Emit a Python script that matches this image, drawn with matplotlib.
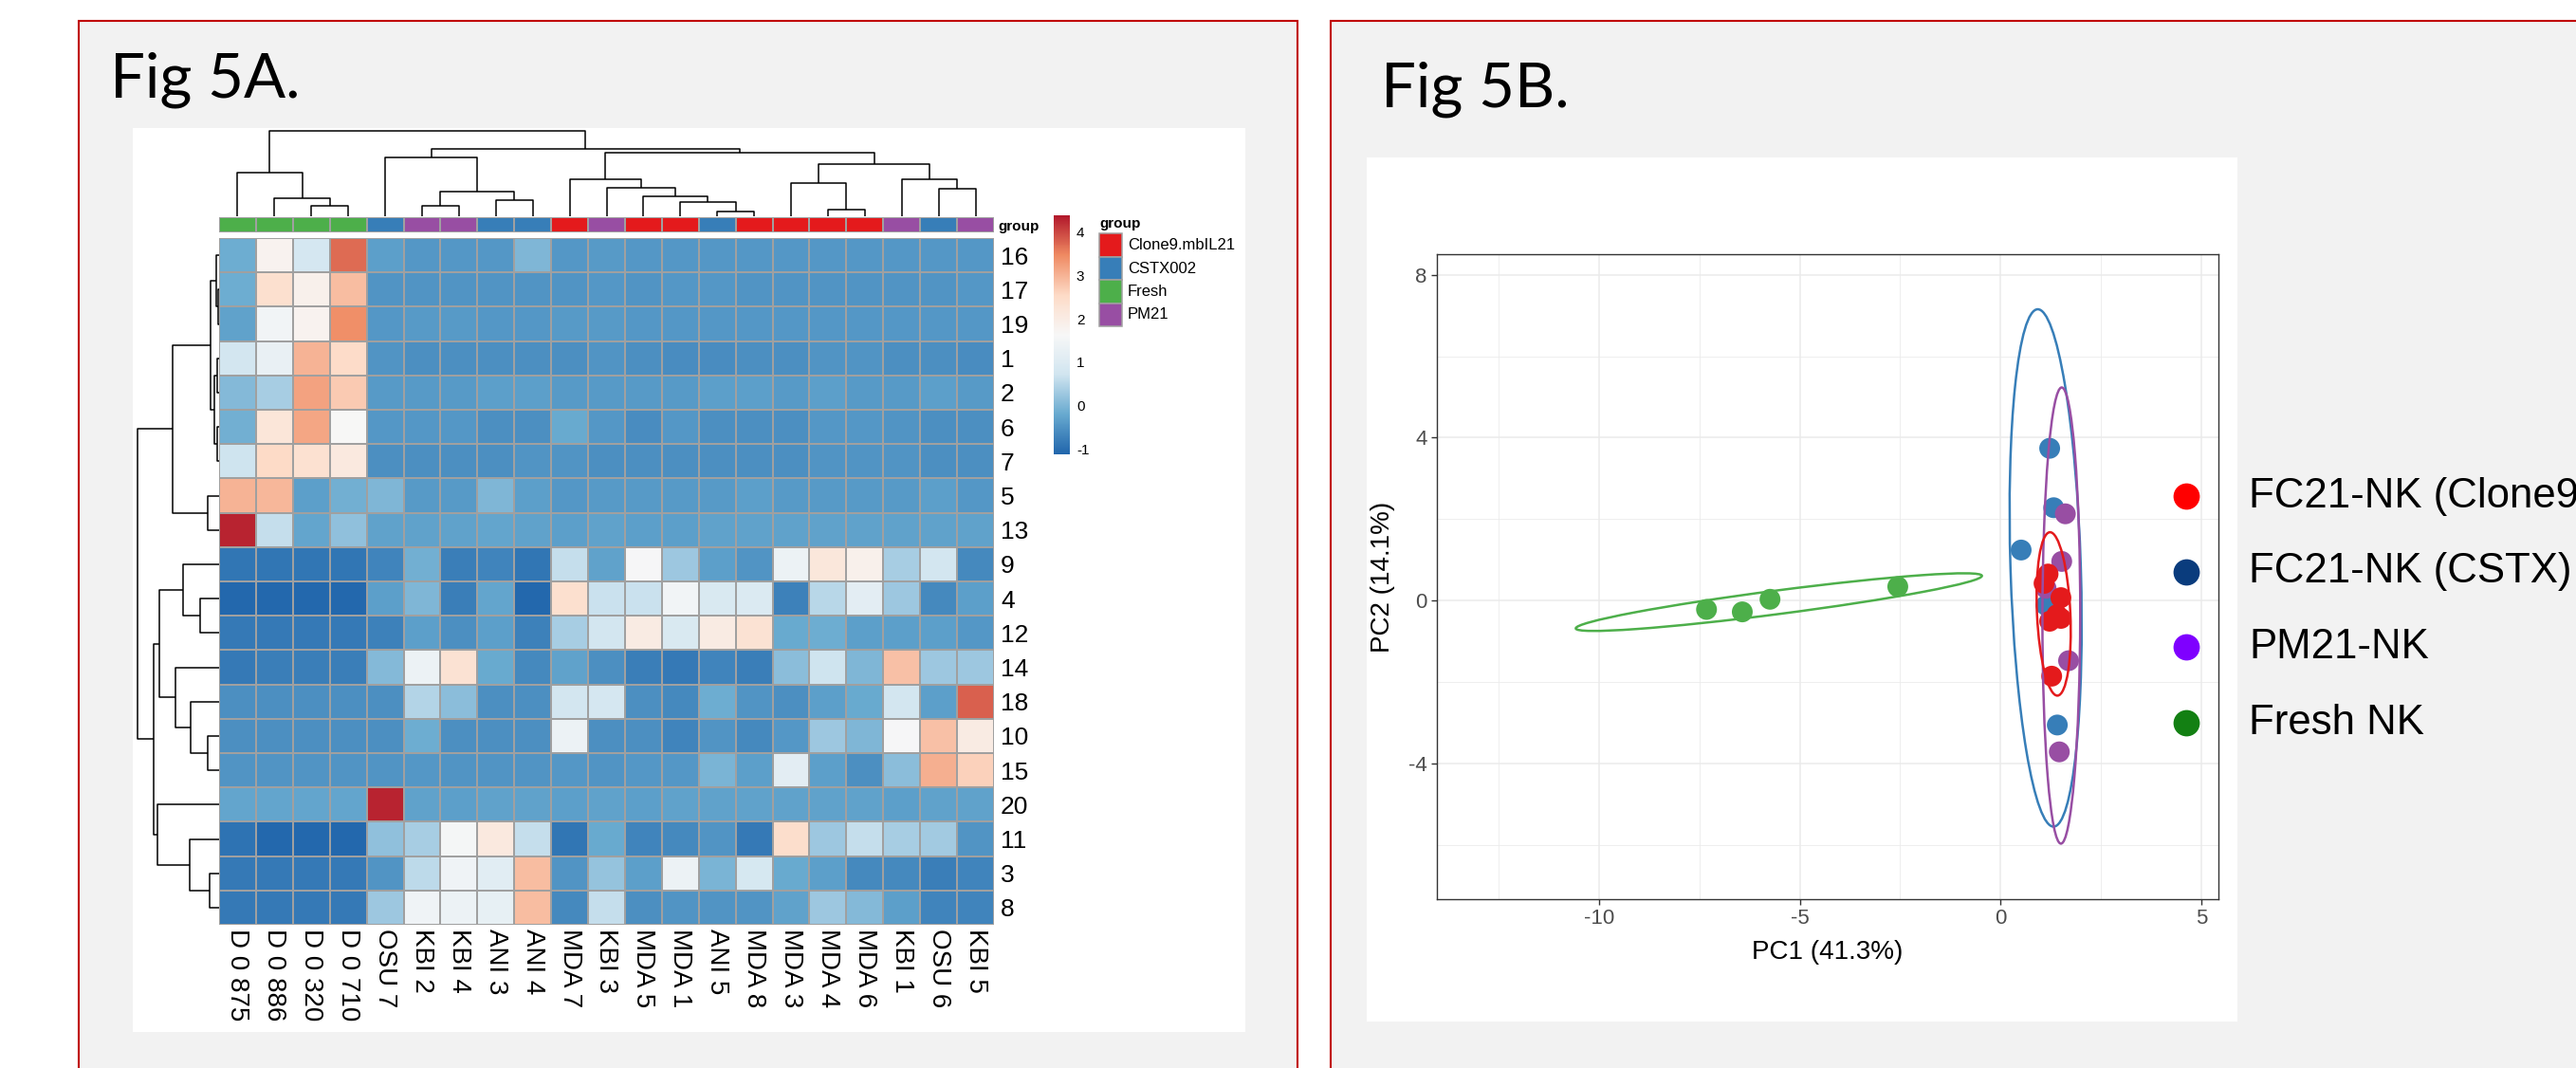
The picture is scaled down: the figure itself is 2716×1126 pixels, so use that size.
import numpy as np
import matplotlib
matplotlib.use("Agg")
import matplotlib.pyplot as plt
from matplotlib.colors import LinearSegmentedColormap, ListedColormap
from matplotlib.patches import Rectangle, Ellipse
from matplotlib.lines import Line2D

plt.rcParams["font.family"] = ["Liberation Sans", "DejaVu Sans"]
plt.rcParams["axes.unicode_minus"] = False

# ---------------- heatmap data (Fig 5A) ----------------
row_labels = ["16", "17", "19", "1", "2", "6", "7", "5", "13", "9",
              "4", "12", "14", "18", "10", "15", "20", "11", "3", "8"]
col_labels = ["D 0 875", "D 0 886", "D 0 320", "D 0 710", "OSU 7", "KBI 2", "KBI 4",
              "ANI 3", "ANI 4", "MDA 7", "KBI 3", "MDA 5", "MDA 1", "ANI 5", "MDA 8",
              "MDA 3", "MDA 4", "MDA 6", "KBI 1", "OSU 6", "KBI 5"]
col_group = ["Fresh", "Fresh", "Fresh", "Fresh", "CSTX002", "PM21", "PM21",
             "CSTX002", "CSTX002", "Clone9.mbIL21", "PM21", "Clone9.mbIL21",
             "Clone9.mbIL21", "CSTX002", "Clone9.mbIL21", "Clone9.mbIL21",
             "Clone9.mbIL21", "Clone9.mbIL21", "PM21", "CSTX002", "PM21"]
group_names = ["Clone9.mbIL21", "CSTX002", "Fresh", "PM21"]
group_colors = ["#E41A1C", "#377EB8", "#4DAF4A", "#984EA3"]

values = np.array([
    [-0.15, 1.8, 0.8, 3.7, -0.35, -0.45, -0.45, -0.45, 0.0, -0.45, -0.4, -0.45, -0.45, -0.45, -0.45, -0.45, -0.45, -0.45, -0.45, -0.45, -0.45],
    [-0.15, 2.4, 1.85, 2.9, -0.5, -0.5, -0.5, -0.5, -0.5, -0.5, -0.45, -0.5, -0.45, -0.45, -0.5, -0.5, -0.5, -0.5, -0.5, -0.5, -0.45],
    [-0.3, 1.5, 1.8, 3.4, -0.45, -0.4, -0.4, -0.45, -0.45, -0.4, -0.4, -0.45, -0.45, -0.45, -0.45, -0.45, -0.45, -0.45, -0.45, -0.45, -0.45],
    [0.75, 1.3, 3.0, 2.5, -0.5, -0.55, -0.55, -0.55, -0.55, -0.55, -0.5, -0.55, -0.6, -0.6, -0.55, -0.55, -0.5, -0.5, -0.55, -0.55, -0.6],
    [0.05, 0.35, 3.2, 2.75, -0.4, -0.4, -0.4, -0.35, -0.35, -0.4, -0.4, -0.4, -0.4, -0.35, -0.35, -0.4, -0.35, -0.4, -0.4, -0.35, -0.4],
    [-0.1, 2.2, 3.15, 1.65, -0.45, -0.45, -0.45, -0.55, -0.55, -0.2, -0.45, -0.6, -0.45, -0.55, -0.55, -0.55, -0.45, -0.45, -0.5, -0.55, -0.55],
    [0.7, 2.55, 2.35, 2.1, -0.55, -0.55, -0.55, -0.55, -0.5, -0.5, -0.55, -0.55, -0.55, -0.55, -0.55, -0.55, -0.5, -0.5, -0.5, -0.55, -0.55],
    [3.0, 2.95, -0.35, -0.1, 0.0, -0.4, -0.4, 0.0, -0.35, -0.45, -0.4, -0.4, -0.4, -0.4, -0.35, -0.4, -0.4, -0.4, -0.4, -0.35, -0.45],
    [4.3, 0.6, -0.25, 0.15, -0.3, -0.3, -0.3, -0.25, -0.3, -0.35, -0.3, -0.35, -0.35, -0.3, -0.3, -0.3, -0.3, -0.3, -0.3, -0.3, -0.3],
    [-0.9, -0.9, -0.9, -0.9, -0.7, -0.1, -0.8, -0.7, -0.9, 0.6, -0.3, 1.6, 0.25, -0.35, -0.5, 1.35, 2.15, 1.85, 0.35, 0.75, -0.65],
    [-1.1, -1.1, -1.1, -1.1, -0.35, 0.0, -0.8, -0.25, -1.1, 2.4, 0.65, 0.65, 1.5, 0.9, 0.95, -0.75, 0.5, 1.15, 0.25, -0.65, -0.35],
    [-0.85, -0.85, -0.85, -0.85, -0.75, -0.35, -0.55, -0.35, -0.75, 0.35, 0.75, 2.0, 0.9, 2.0, 2.3, -0.2, -0.15, -0.35, -0.35, -0.35, -0.45],
    [-0.85, -0.8, -0.8, -0.8, 0.05, 1.35, 2.3, -0.2, -0.65, -0.3, -0.55, -0.8, -0.85, -0.7, -0.8, 0.1, 0.7, 0.0, 2.85, 0.25, 0.25],
    [-0.55, -0.55, -0.55, -0.55, -0.55, 0.45, 0.1, -0.55, -0.55, 0.75, 0.8, -0.55, -0.65, -0.15, -0.5, -0.55, -0.35, -0.2, 0.75, -0.35, 3.8],
    [-0.55, -0.55, -0.55, -0.55, -0.55, -0.15, -0.55, -0.55, -0.55, 1.35, -0.55, -0.55, -0.7, -0.5, -0.65, -0.45, 0.25, 0.0, 1.6, 2.85, 2.0],
    [-0.5, -0.5, -0.5, -0.5, -0.5, -0.45, -0.5, -0.5, -0.5, -0.45, -0.5, -0.45, -0.45, -0.05, -0.35, 1.15, -0.35, -0.55, 0.1, 3.05, 2.65],
    [-0.25, -0.25, -0.25, -0.25, 4.3, -0.3, -0.35, -0.3, -0.3, -0.35, -0.3, -0.35, -0.3, -0.3, -0.3, -0.3, -0.3, -0.3, -0.35, -0.3, -0.3],
    [-0.95, -1.1, -1.1, -1.1, 0.15, 0.35, 1.55, 2.1, 0.6, -0.9, -0.2, -0.7, -0.65, -0.5, -0.85, 2.45, 0.25, 0.6, 0.35, 0.3, -0.5],
    [-0.85, -0.85, -0.85, -0.85, -0.5, 0.55, 1.45, 1.1, 2.9, -0.5, 0.2, -0.35, 1.35, -0.05, 0.85, -0.2, -0.35, -0.65, -0.65, -0.8, -0.7],
    [-0.85, -0.85, -0.85, -0.85, 0.25, 1.45, 1.35, 1.25, 2.9, -0.65, 0.6, -0.55, -0.5, -0.5, -0.5, -0.3, 0.25, 0.05, -0.35, -0.7, -0.7],
])

# dendrogram merges: (left, right, height); ids >= n are earlier merges
col_merges = [
    (2, 3, 10.7), (1, 21, 18.7), (0, 22, 46.3),
    (5, 6, 10.7), (7, 8, 17.3), (24, 25, 25.7), (4, 26, 61.3),
    (13, 14, 5.3), (12, 28, 14.7), (11, 29, 20.7), (10, 30, 29.7), (9, 31, 38.7),
    (16, 17, 7.0), (15, 33, 34.7), (19, 20, 28.7), (18, 35, 38.7), (34, 36, 54.7),
    (32, 37, 66.3), (27, 38, 70.7), (23, 39, 89.7),
]
row_merges = [
    (1, 2, 0.7), (0, 20, 2.7), (3, 4, 1.7), (5, 6, 1.7), (22, 23, 5.3),
    (21, 24, 8.7), (7, 8, 11.7), (25, 26, 49.3),
    (10, 11, 19.7), (9, 28, 38.3), (14, 15, 12.0), (13, 30, 29.7), (12, 31, 46.0),
    (29, 32, 62.7), (18, 19, 10.3), (17, 34, 30.7), (16, 35, 65.3),
    (33, 36, 68.7), (27, 37, 86.0),
]

# ---------------- PCA data (Fig 5B) ----------------
clone9_pc1 = [1.18, 1.08, 1.50, 1.22, 1.50, 1.40, 1.27]
clone9_pc2 = [0.65, 0.42, 0.07, -0.51, -0.44, -0.35, -1.86]
cstx_pc1 = [1.22, 1.32, 0.51, 1.13, 1.41]
cstx_pc2 = [3.74, 2.28, 1.24, -0.12, -3.06]
pm21_pc1 = [1.61, 1.52, 1.69, 1.46, 1.13]
pm21_pc2 = [2.13, 0.96, -1.48, -3.72, 0.30]
fresh_pc1 = [-7.32, -6.43, -5.74, -2.56]
fresh_pc2 = [-0.22, -0.28, 0.03, 0.34]

# ellipses per group (clone9, cstx, fresh, pm21)
ell_cx = [1.32, 1.12, -5.52, 1.51]
ell_cy = [-0.33, 0.80, -0.04, -0.37]
ell_major = [4.02, 12.72, 10.19, 11.21]
ell_minor = [0.83, 1.75, 0.58, 0.94]
ell_angle = [92.7, 91.8, 7.3, 89.9]

legend_labels = ["FC21-NK (Clone9)", "FC21-NK (CSTX)", "PM21-NK", "Fresh NK"]
legend_colors = ["#FF0000", "#0A3C7D", "#7F00FF", "#138013"]

# ---------------- figure ----------------
W, H = 2716, 1126
fig = plt.figure(figsize=(W / 100, H / 100), dpi=100)
fig.patch.set_facecolor("white")


def box(x0, y0, x1, y1):
    return [x0 / W, 1 - y1 / H, (x1 - x0) / W, (y1 - y0) / H]


def panel(x0, y0, x1, y1, face, edge=None, lw=0):
    fig.add_artist(Rectangle((x0 / W, 1 - y1 / H), (x1 - x0) / W, (y1 - y0) / H,
                             transform=fig.transFigure, facecolor=face,
                             edgecolor=edge if edge else "none", linewidth=lw, zorder=0))


# outer panels with red frame
panel(83, 22, 1368, 1200, "#F2F2F2", "#C00000", 1.5)
panel(1403, 22, 2800, 1200, "#F2F2F2", "#C00000", 1.5)
panel(140, 135, 1313, 1088, "white")
panel(1441, 166, 2359, 1077, "white")

fig.text(116 / W, 1 - 102 / H, "Fig 5A.", fontsize=47, family=["Lato", "DejaVu Sans"],
         ha="left", va="baseline")
fig.text(1456 / W, 1 - 113 / H, "Fig 5B.", fontsize=47, family=["Lato", "DejaVu Sans"],
         ha="left", va="baseline")

# ---------------- heatmap ----------------
cmap = LinearSegmentedColormap.from_list(
    "rdbu7", ["#2166AC", "#67A9CF", "#D1E5F0", "#F7F7F7", "#FDDBC7", "#EF8A62", "#B2182B"])
vmin, vmax = -1.13, 4.39
n_rows, n_cols = values.shape

ax_h = fig.add_axes(box(231, 251, 1048, 975))
mesh = ax_h.pcolormesh(np.arange(n_cols + 1), np.arange(n_rows + 1), values, cmap=cmap,
                       vmin=vmin, vmax=vmax, edgecolors="#A0A0A0", linewidth=1.1)
ax_h.set_xlim(0, n_cols)
ax_h.set_ylim(n_rows, 0)
for s in ax_h.spines.values():
    s.set_visible(False)
ax_h.set_xticks(np.arange(n_cols) + 0.5)
ax_h.set_xticklabels(col_labels, rotation=270, fontsize=20)
ax_h.yaxis.tick_right()
ax_h.set_yticks(np.arange(n_rows) + 0.5)
ax_h.set_yticklabels(row_labels, fontsize=19)
ax_h.tick_params(axis="x", length=0, pad=3)
ax_h.tick_params(axis="y", length=0, pad=5)

# annotation bar
ax_a = fig.add_axes(box(231, 229, 1048, 245))
codes = np.array([[group_names.index(g) for g in col_group]])
ax_a.pcolormesh(np.arange(n_cols + 1), [0, 1], codes, cmap=ListedColormap(group_colors),
                vmin=-0.5, vmax=3.5, edgecolors="#A0A0A0", linewidth=1.1)
ax_a.set_xlim(0, n_cols)
ax_a.set_ylim(0, 1)
for s in ax_a.spines.values():
    s.set_visible(False)
ax_a.set_xticks([])
ax_a.yaxis.tick_right()
ax_a.set_yticks([0.5])
ax_a.set_yticklabels(["group"], fontsize=11, fontweight="bold")
ax_a.tick_params(axis="y", length=0, pad=3)


def draw_dendro(ax, merges, n, vertical):
    pos = {i: i + 0.5 for i in range(n)}
    hgt = {i: 0.0 for i in range(n)}
    for k, (a, b, h) in enumerate(merges):
        xs = [pos[a], pos[a], pos[b], pos[b]]
        ys = [hgt[a], h, h, hgt[b]]
        if vertical:
            ax.plot(xs, ys, color="black", lw=1.1, clip_on=False, solid_capstyle="butt")
        else:
            ax.plot(ys, xs, color="black", lw=1.1, clip_on=False, solid_capstyle="butt")
        pos[n + k] = (pos[a] + pos[b]) / 2
        hgt[n + k] = h
    ax.axis("off")


ax_cd = fig.add_axes(box(231, 138, 1048, 228))
draw_dendro(ax_cd, col_merges, n_cols, True)
ax_cd.set_xlim(0, n_cols)
ax_cd.set_ylim(0, max(m[2] for m in col_merges))

ax_rd = fig.add_axes(box(145, 251, 231, 975))
draw_dendro(ax_rd, row_merges, n_rows, False)
ax_rd.set_ylim(n_rows, 0)
ax_rd.set_xlim(max(m[2] for m in row_merges), 0)

# colour key
cax = fig.add_axes(box(1111, 227, 1128, 479))
cb = fig.colorbar(mesh, cax=cax, ticks=[-1, 0, 1, 2, 3, 4])
cb.outline.set_visible(False)
cax.tick_params(length=0, labelsize=11, pad=5)

# group legend
fig.text(1159 / W, 1 - 236 / H, "group", fontsize=11, fontweight="bold", va="center")
for i, (name, col) in enumerate(zip(group_names, group_colors)):
    y0 = 246 + i * 24.5
    fig.add_artist(Rectangle((1159 / W, 1 - (y0 + 24.5) / H), 24 / W, 24.5 / H,
                             transform=fig.transFigure, facecolor=col,
                             edgecolor="#A0A0A0", linewidth=1.1))
    fig.text(1189 / W, 1 - (y0 + 12.5) / H, name, fontsize=12, va="center")

# ---------------- PCA ----------------
ax_p = fig.add_axes(box(1515, 268, 2339, 948))
ax_p.set_facecolor("white")
ax_p.set_xlim(-14.03, 5.42)
ax_p.set_ylim(-7.34, 8.51)
ax_p.set_xticks([-10, -5, 0, 5])
ax_p.set_yticks([-4, 0, 4, 8])
ax_p.set_xticks([-12.5, -7.5, -2.5, 2.5], minor=True)
ax_p.set_yticks([-6, -2, 2, 6], minor=True)
ax_p.grid(which="major", color="#EBEBEB", lw=1.1)
ax_p.grid(which="minor", color="#EBEBEB", lw=0.6)
ax_p.set_axisbelow(True)
ax_p.tick_params(which="major", length=4, width=1, color="#333333",
                 labelcolor="#4D4D4D", labelsize=16)
ax_p.tick_params(which="minor", length=0)
for s in ax_p.spines.values():
    s.set_color("#333333")
    s.set_linewidth(1.0)
ax_p.set_xlabel("PC1 (41.3%)", fontsize=20, labelpad=8)
ax_p.set_ylabel("PC2 (14.1%)", fontsize=20, labelpad=10)

pt = 250
ax_p.scatter(cstx_pc1, cstx_pc2, s=pt, color=group_colors[1], edgecolors="none", zorder=3)
ax_p.scatter(pm21_pc1, pm21_pc2, s=pt, color=group_colors[3], edgecolors="none", zorder=3)
ax_p.scatter(clone9_pc1, clone9_pc2, s=pt, color=group_colors[0], edgecolors="none", zorder=3)
ax_p.scatter(fresh_pc1, fresh_pc2, s=pt, color=group_colors[2], edgecolors="none", zorder=3)

for i in [1, 3, 0, 2]:
    ax_p.add_patch(Ellipse((ell_cx[i], ell_cy[i]), ell_major[i], ell_minor[i],
                           angle=ell_angle[i], fill=False, edgecolor=group_colors[i],
                           lw=1.8, zorder=4))

# PCA legend (the first label runs off the right edge, as in the original)
for i, (lab, col) in enumerate(zip(legend_labels, legend_colors)):
    yy = 1 - (523 + i * 79.7) / H
    fig.add_artist(Line2D([2305 / W], [yy], marker="o", markersize=20, color=col,
                          markeredgecolor="none", linestyle="none",
                          transform=fig.transFigure))
    fig.text(2371 / W, yy, lab, fontsize=31.5, va="center", ha="left")

fig.savefig("out.png", dpi=100)
